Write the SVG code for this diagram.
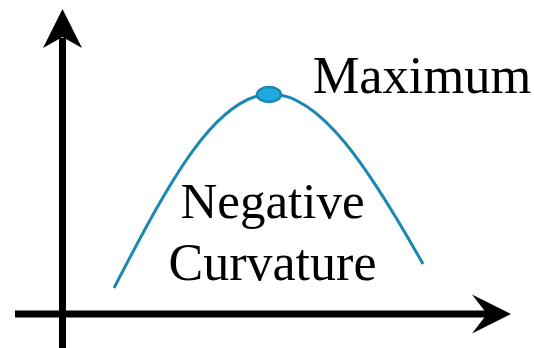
<svg xmlns="http://www.w3.org/2000/svg" width="534" height="348" viewBox="0 0 534 348">
<style>
.axis{stroke:#000;stroke-width:7;fill:none}
.head{fill:#000}
.curve{stroke:#1b88b2;stroke-width:3;fill:none}
.lbl{font-family:"Liberation Serif","Times New Roman",serif;fill:#000}
</style>
<rect width="534" height="348" fill="#fff"/>
<g id="connectors">
<g id="y-axis">
<line class="axis" x1="62.5" y1="38" x2="62.5" y2="348"/>
<polygon class="head" points="62.5,9 82,48 62.5,37 43,48"/>
</g>
<g id="x-axis">
<line class="axis" x1="15" y1="314" x2="488" y2="314"/>
<polygon class="head" points="511,314 472,333.5 487,314 472,294.5"/>
</g>
<path id="curve" class="curve" d="M114,288 C170,180 215,97 269,94 C320,92 370,170 423,264"/>
</g>
<g id="maximum">
<ellipse cx="269" cy="94.5" rx="12" ry="7.5" fill="#1fa9e1" stroke="#1b88b2" stroke-width="2.5"/>
<text class="lbl" x="422" y="93" font-size="52.5" text-anchor="middle">Maximum</text>
</g>
<g id="negative-curvature">
<text class="lbl" x="272.5" y="218" font-size="51" text-anchor="middle">Negative</text>
<text class="lbl" x="272.5" y="280" font-size="52" text-anchor="middle">Curvature</text>
</g>
</svg>
